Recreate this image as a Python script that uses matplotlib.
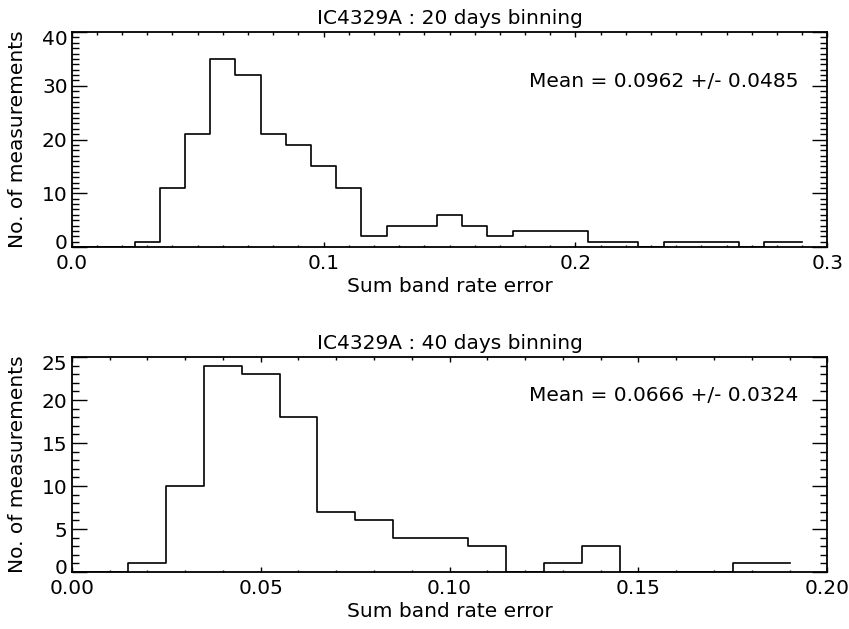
import matplotlib.pyplot as plt
import matplotlib.transforms as mtransforms
from matplotlib.ticker import MultipleLocator

# bin centres and counts, 20 days binning
x_20 = [0.00, 0.01, 0.02, 0.03, 0.04, 0.05, 0.06, 0.07, 0.08, 0.09,
        0.10, 0.11, 0.12, 0.13, 0.14, 0.15, 0.16, 0.17, 0.18, 0.19,
        0.20, 0.21, 0.22, 0.23, 0.24, 0.25, 0.26, 0.27, 0.28, 0.29]
n_20 = [0, 0, 0, 1, 11, 21, 35, 32, 21, 19,
        15, 11, 2, 4, 4, 6, 4, 2, 3, 3,
        3, 1, 1, 0, 1, 1, 1, 0, 1, 1]

# bin centres and counts, 40 days binning
x_40 = [0.00, 0.01, 0.02, 0.03, 0.04, 0.05, 0.06, 0.07, 0.08, 0.09,
        0.10, 0.11, 0.12, 0.13, 0.14, 0.15, 0.16, 0.17, 0.18, 0.19]
n_40 = [0, 0, 1, 10, 24, 23, 18, 7, 6, 4,
        4, 3, 0, 1, 3, 0, 0, 0, 1, 1]

yticks_20 = [0, 10, 20, 30, 40]
yticks_40 = [0, 5, 10, 15, 20, 25]

titles = ['IC4329A : 20 days binning', 'IC4329A : 40 days binning']
means = ['Mean = 0.0962 +/- 0.0485', 'Mean = 0.0666 +/- 0.0324']
mean_y = [0.769, 0.823]

fs = 14.5
fig = plt.figure(figsize=(8.49, 6.29), dpi=100)
ax1 = fig.add_axes([0.0845, 0.6073, 0.890, 0.3418])
ax2 = fig.add_axes([0.0845, 0.0906, 0.890, 0.3418])

setup = [
    (ax1, x_20, n_20, (0, 0.3), yticks_20, 0.1, 0.01, 1, '%.1f'),
    (ax2, x_40, n_40, (0, 0.2), yticks_40, 0.05, 0.01, 1, '%.2f'),
]

for i, (ax, x, n, xr, yt, xmaj, xmin, ymin, fmt) in enumerate(setup):
    ax.step(x, n, where='mid', color='black', lw=1.2)
    ax.set_xlim(*xr)
    ax.set_ylim(yt[0], yt[-1])
    ax.xaxis.set_major_locator(MultipleLocator(xmaj))
    ax.xaxis.set_minor_locator(MultipleLocator(xmin))
    ax.set_yticks(yt)
    ax.yaxis.set_minor_locator(MultipleLocator(ymin))
    ax.xaxis.set_major_formatter(plt.FormatStrFormatter(fmt))
    ax.tick_params(which='both', direction='in', top=True, right=True,
                   labelsize=fs, width=1)
    ax.xaxis.set_tick_params(which='major', length=3.6, pad=5)
    ax.xaxis.set_tick_params(which='minor', length=1.8)
    ax.yaxis.set_tick_params(which='major', length=10.8, pad=3)
    ax.yaxis.set_tick_params(which='minor', length=5)
    for s in ax.spines.values():
        s.set_linewidth(1.3)
    ax.set_title(titles[i], fontsize=fs, pad=6)
    ax.set_xlabel('Sum band rate error', fontsize=fs, labelpad=3)
    ax.set_ylabel('No. of measurements', fontsize=fs)
    ax.yaxis.set_label_coords(-0.059, 0.5)
    ax.text(0.962, mean_y[i], means[i], transform=ax.transAxes, fontsize=fs,
            ha='right', va='center')

    # end labels of the y axis sit inside the axis range, as in the original
    ticks = ax.yaxis.get_major_ticks()
    up = mtransforms.ScaledTranslation(0, 4 / 72, fig.dpi_scale_trans)
    down = mtransforms.ScaledTranslation(0, -4 / 72, fig.dpi_scale_trans)
    ticks[0].label1.set_transform(ticks[0].label1.get_transform() + up)
    ticks[-1].label1.set_transform(ticks[-1].label1.get_transform() + down)

plt.savefig('out.png', dpi=100)
